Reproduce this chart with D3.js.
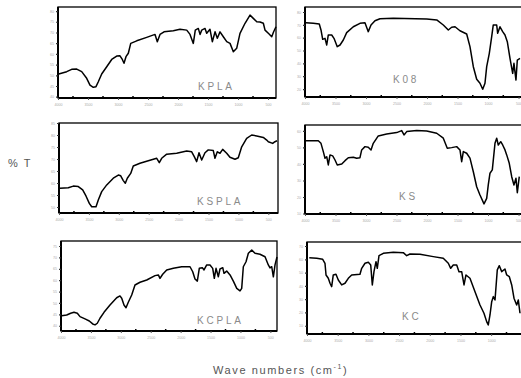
<!DOCTYPE html>
<html><head><meta charset="utf-8">
<script src="https://cdn.jsdelivr.net/npm/d3@7"></script>
<style>body{margin:0;background:#fff}svg{display:block}</style>
</head><body>
<svg id="c" width="521" height="378"></svg>
<script>
// ---- data: [wavenumber cm-1, %T] ----
const KPLA = [[3988,50.6],[3855,51.7],[3772,52.8],[3688,52.9],[3605,51.7],[3522,48.6],[3467,45.4],[3412,44.4],[3367,44.7],[3328,47],[3272,50.6],[3188,54],[3105,57.4],[3022,59],[2967,59.1],[2928,57.4],[2900,55.6],[2867,58.7],[2828,60.3],[2788,64.9],[2688,66.1],[2522,67.7],[2383,69.1],[2345,65.7],[2300,69.1],[2233,70.3],[2078,70.8],[1967,71.5],[1855,71.1],[1800,69.1],[1745,64.9],[1712,71.1],[1662,71.9],[1633,69.1],[1605,71.1],[1550,71.9],[1522,69.6],[1467,71.5],[1428,65.7],[1383,70.3],[1345,67.3],[1300,70.3],[1245,68],[1188,65.7],[1133,64.9],[1078,61],[1022,62.6],[967,69.6],[883,74.3],[800,78.1],[745,76.6],[688,75],[633,74.9],[578,74.3],[550,71.1],[495,69.6],[438,68],[408,70.2],[367,72.7]];
const K08 = [[3984,71.7],[3864,71.2],[3766,70.7],[3738,66],[3710,58.7],[3672,59.5],[3644,54.3],[3618,62.1],[3562,62.1],[3525,59.5],[3471,53],[3426,54.3],[3372,58.2],[3317,63.9],[3208,68.5],[3099,71.2],[3017,71.7],[2963,64.7],[2918,69.9],[2853,73.2],[2771,74.8],[2553,75.1],[2005,74.5],[1841,73.8],[1733,69.9],[1651,66],[1596,68.1],[1541,68.5],[1460,65.4],[1350,62.9],[1296,53],[1241,37.4],[1186,27.6],[1132,24.5],[1087,19.8],[1050,24.5],[1022,37.4],[979,47.8],[940,60.8],[914,69.9],[858,69.9],[842,63.4],[804,68.5],[760,64.7],[722,62.1],[684,56.9],[640,43.9],[596,32.2],[575,40],[542,27],[520,42.6],[476,43.9]];
const KSPLA = [[3983,57.8],[3844,58],[3761,58.7],[3677,58.5],[3604,57.1],[3549,54.6],[3493,51.5],[3453,50.1],[3381,50.1],[3343,52.9],[3286,56.4],[3202,59.2],[3092,62],[3008,63.3],[2968,63],[2925,61],[2891,59.9],[2858,62],[2801,64],[2758,67.1],[2646,68.2],[2507,69.3],[2366,70.3],[2323,68.5],[2283,70.3],[2199,72],[2032,72.4],[1865,73.3],[1781,73],[1738,71],[1698,68.9],[1659,72.6],[1614,69.6],[1559,72.6],[1504,73.8],[1420,73.5],[1392,70.3],[1353,73],[1308,72.4],[1263,74],[1196,72.4],[1141,70.7],[1057,69.9],[1002,70.5],[945,75.1],[862,78.6],[778,80],[694,79.6],[584,79],[527,77.9],[500,77.2],[427,76.5],[389,77.2],[355,77.6]];
const KS = [[3984,54.1],[3782,54.1],[3738,52.5],[3700,47.5],[3672,43.5],[3644,44.4],[3618,39.4],[3590,45.5],[3546,44.9],[3508,42.4],[3471,39.4],[3398,40],[3344,42],[3290,43.8],[3208,44.1],[3153,43.5],[3099,43.8],[3071,48.5],[3017,50.5],[2963,50.1],[2918,48.5],[2881,52.5],[2799,57],[2661,58.2],[2497,59],[2415,60.2],[2377,57.6],[2333,59.6],[2169,60.2],[2005,60],[1841,58.6],[1733,55.6],[1668,49.5],[1596,49.9],[1514,50.5],[1460,48.5],[1432,41.4],[1405,47.5],[1350,46.5],[1296,43.5],[1241,35.3],[1186,26.2],[1132,21.2],[1066,15.8],[1022,19.2],[996,27.3],[968,34.4],[930,36.4],[886,52.5],[858,55.6],[832,51.5],[792,53.5],[760,51.5],[722,48.5],[694,45.5],[652,40.4],[612,32.3],[575,27.3],[542,31.3],[520,22.6],[488,32.3]];
const KCPLA = [[3988,44.4],[3905,44.7],[3838,45.5],[3783,45.9],[3727,45.5],[3682,44],[3599,43],[3527,42.1],[3470,40.8],[3431,40.4],[3393,41.1],[3348,43.3],[3281,45.9],[3181,49.1],[3069,52.3],[3014,53.1],[2985,52.1],[2947,49.1],[2913,47.9],[2875,50.3],[2818,53.5],[2763,57.9],[2679,59.1],[2567,60.1],[2428,62],[2373,62.3],[2345,60.8],[2300,62.6],[2233,64.5],[2122,65.2],[1982,65.9],[1843,65.9],[1798,63.7],[1760,60.5],[1721,59.6],[1688,65.2],[1637,65.5],[1609,64.5],[1564,66.7],[1509,66.7],[1464,65.2],[1437,60.8],[1408,65.2],[1370,61.5],[1342,64.9],[1296,65.5],[1275,63],[1230,64],[1174,62.3],[1119,59.6],[1062,56.4],[1007,55.3],[979,56.4],[952,65.9],[907,68.1],[868,71.8],[811,73.2],[756,71.8],[673,71.4],[589,70.3],[534,66.7],[506,65.4],[477,65.9],[450,61.5],[422,66.7],[389,70.2]];
const KC = [[3963,61.2],[3842,60.8],[3744,60],[3707,57],[3690,48.2],[3653,45.7],[3625,42],[3598,39.4],[3572,48.2],[3528,48.7],[3490,44.4],[3435,40.7],[3381,42],[3327,45.7],[3272,48.2],[3137,48.7],[3109,53.2],[3055,57],[3001,57.7],[2962,55.7],[2936,40.7],[2909,50.7],[2876,58.2],[2855,53.2],[2827,62.7],[2757,64.5],[2594,65.3],[2431,65],[2376,62.7],[2322,64],[2159,63.8],[1943,62],[1780,60.8],[1698,57],[1659,53.2],[1617,55.7],[1561,55.7],[1524,50.7],[1480,50.7],[1442,40.7],[1410,48.2],[1345,45.7],[1263,35.6],[1182,25.6],[1117,19.4],[1073,13.1],[1047,10.6],[1019,18.1],[991,28.1],[965,31.9],[937,29.4],[900,52],[867,55.2],[828,50.7],[775,52.7],[747,48.2],[704,46.9],[665,40.7],[628,30.7],[584,25.6],[558,29.4],[530,19.4]];

const sampleNames = ["KPLA","K08","KSPLA","KS","KCPLA","KC"];
const sampleLabels = ["KPLA","K08","KSPLA","KS","KCPLA","KC"];
const xTickLabels = [4000,3500,3000,2500,2000,1500,1000,500];
const yTicksKPLA = [80,75,70,65,60,55,50,45,40];
const yTicksK08 = [80,70,60,50,40,30,20];
const yTicksKSPLA = [85,80,75,70,65,60,55,50];
const yTicksKS = [60,50,40,30,20,10];
const yTicksKCPLA = [75,70,65,60,55,50,45,40];
const yTicksKC = [70,60,50,40,30,20,10];
const yAxisTitle = "% T";
const xAxisTitle = "Wave numbers (cm";

// ---- layout ----
const series = [KPLA,K08,KSPLA,KS,KCPLA,KC];
const yTickSets = [yTicksKPLA,yTicksK08,yTicksKSPLA,yTicksKS,yTicksKCPLA,yTicksKC];
const layout = [
  {l:58, t:7,   r:276, b:98,  fr:276, dx:[4000,367], dy:[39.4,81.9], lx:198, ly:89.5},
  {l:305,t:7,   r:520, b:97,  fr:524, dx:[4000,476], dy:[13.8,83.9], lx:393, ly:83},
  {l:59, t:123, r:278, b:213, fr:278, dx:[4000,338], dy:[47.5,85],   lx:197, ly:204.5},
  {l:305,t:125, r:520, b:214, fr:524, dx:[4000,476], dy:[9.7,63.6],  lx:399, ly:199.5},
  {l:61, t:241, r:277, b:331, fr:277, dx:[4000,389], dy:[37.7,77.2], lx:197, ly:323.5},
  {l:307,t:242, r:520, b:334, fr:524, dx:[4000,530], dy:[3.8,73],    lx:402, ly:319.5}
];

const svg = d3.select("#c");
const font = "'Liberation Sans', Arial, sans-serif";

layout.forEach((p,i)=>{
  const x = d3.scaleLinear().domain(p.dx).range([p.l,p.r]);
  const y = d3.scaleLinear().domain(p.dy).range([p.b,p.t]);
  const g = svg.append("g");

  // frame
  g.append("rect").attr("x",p.l).attr("y",p.t).attr("width",p.fr-p.l).attr("height",p.b-p.t)
    .attr("fill","none").attr("stroke","#000").attr("stroke-width",1.3);
  g.append("line").attr("x1",p.l).attr("x2",p.l).attr("y1",p.t).attr("y2",p.b).attr("stroke","#000").attr("stroke-width",2);
  g.append("line").attr("x1",p.l).attr("x2",p.fr).attr("y1",p.b).attr("y2",p.b).attr("stroke","#000").attr("stroke-width",2);

  // x axis
  const xt = xTickLabels.filter(v=>v<=p.dx[0] && v>=p.dx[1]-15);
  const xAxis = d3.axisBottom(x).tickValues(xt).tickSize(2).tickFormat(d3.format("d"));
  const ax = g.append("g").attr("transform",`translate(0,${p.b})`).call(xAxis);
  ax.select(".domain").remove();
  ax.selectAll("line").attr("stroke","#555").attr("stroke-width",1);
  ax.selectAll("text").attr("font-size",3.6).attr("fill","#aaa").attr("font-family",font).attr("dy","0.9em");
  // minor x ticks
  const minors = d3.range(3750,p.dx[1],-500).filter(v=>v>p.dx[1]);
  g.selectAll(null).data(minors).enter().append("line")
    .attr("x1",d=>x(d)).attr("x2",d=>x(d)).attr("y1",p.b-2).attr("y2",p.b)
    .attr("stroke","#000").attr("stroke-width",1.5);

  // y axis
  const yAxis = d3.axisLeft(y).tickValues(yTickSets[i]).tickSize(2).tickFormat(d3.format("d"));
  const ay = g.append("g").attr("transform",`translate(${p.l},0)`).call(yAxis);
  ay.select(".domain").remove();
  ay.selectAll("line").attr("stroke","#333").attr("stroke-width",1.2);
  ay.selectAll("text").attr("font-size",3.6).attr("fill","#aaa").attr("font-family",font).attr("x",-4);

  // curve
  g.append("path").datum(series[i])
    .attr("d",d3.line().x(d=>x(d[0])).y(d=>y(d[1])))
    .attr("fill","none").attr("stroke","#000").attr("stroke-width",1.5).attr("stroke-linejoin","round");

  // sample label
  g.append("text").attr("x",p.lx).attr("y",p.ly).text(sampleLabels[i])
    .attr("font-family",font).attr("font-size",10).attr("fill","#8a8a8a").attr("letter-spacing",2.8);
});

// axis titles
svg.append("text").attr("x",8).attr("y",167).text(yAxisTitle)
  .attr("font-family",font).attr("font-size",11).attr("fill","#555").attr("letter-spacing",1.5);
const xt = svg.append("text").attr("x",213).attr("y",374)
  .attr("font-family",font).attr("font-size",11).attr("fill","#555").attr("letter-spacing",1.6);
xt.append("tspan").text(xAxisTitle);
xt.append("tspan").attr("font-size",7).attr("dy",-5).text("-1");
xt.append("tspan").attr("dy",5).text(")");
</script>
</body></html>
